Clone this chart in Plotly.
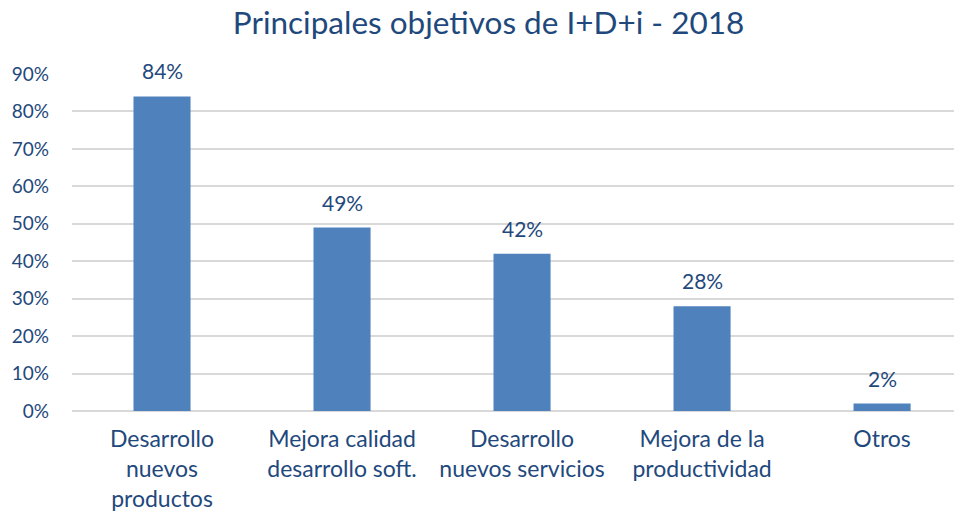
import plotly.graph_objects as go

categories = ["Desarrollo<br>nuevos<br>productos", "Mejora calidad<br>desarrollo soft.",
              "Desarrollo<br>nuevos servicios", "Mejora de la<br>productividad", "Otros"]
values = [0.84, 0.49, 0.42, 0.28, 0.02]
tick_vals = [0, 0.1, 0.2, 0.3, 0.4, 0.5, 0.6, 0.7, 0.8, 0.9]
tick_text = ["0%", "10%", "20%", "30%", "40%", "50%", "60%", "70%", "80%", "90%"]

text_color = "#1F497D"
font_family = "Lato, 'Open Sans', sans-serif"

fig = go.Figure(go.Bar(
    x=categories, y=values,
    marker=dict(color="#4F81BD", line=dict(width=0)),
    cliponaxis=False,
))

for c, v in zip(categories, values):
    fig.add_annotation(x=c, y=v, text=f"{round(v*100)}%", showarrow=False,
                       yanchor="bottom", yshift=11,
                       font=dict(size=21, color=text_color, family=font_family))

fig.update_layout(
    width=954, height=509,
    margin=dict(l=64, r=0, t=66, b=106, autoexpand=False),
    paper_bgcolor="white", plot_bgcolor="white",
    bargap=0.683,
    showlegend=False,
    title=dict(text="Principales objetivos de I+D+i - 2018", x=0.5037, xanchor="center",
               y=1, yref="container", yanchor="top", pad=dict(t=4),
               font=dict(size=31.5, color=text_color, family=font_family)),
    font=dict(family=font_family, color=text_color),
)
fig.update_yaxes(range=[0, 0.9], tickvals=tick_vals, ticktext=tick_text,
                 showgrid=True, gridcolor="#D9D9D9", gridwidth=1.5,
                 zeroline=True, zerolinecolor="#D9D9D9", zerolinewidth=1.5,
                 tickfont=dict(size=19, color=text_color, family=font_family),
                 ticklabelstandoff=22, showline=False, automargin=False)
fig.update_xaxes(range=[-0.5, 4.444],
                 tickfont=dict(size=23, color=text_color, family=font_family),
                 showline=False, ticklabelstandoff=12, automargin=False)

fig.write_html("out.html")
